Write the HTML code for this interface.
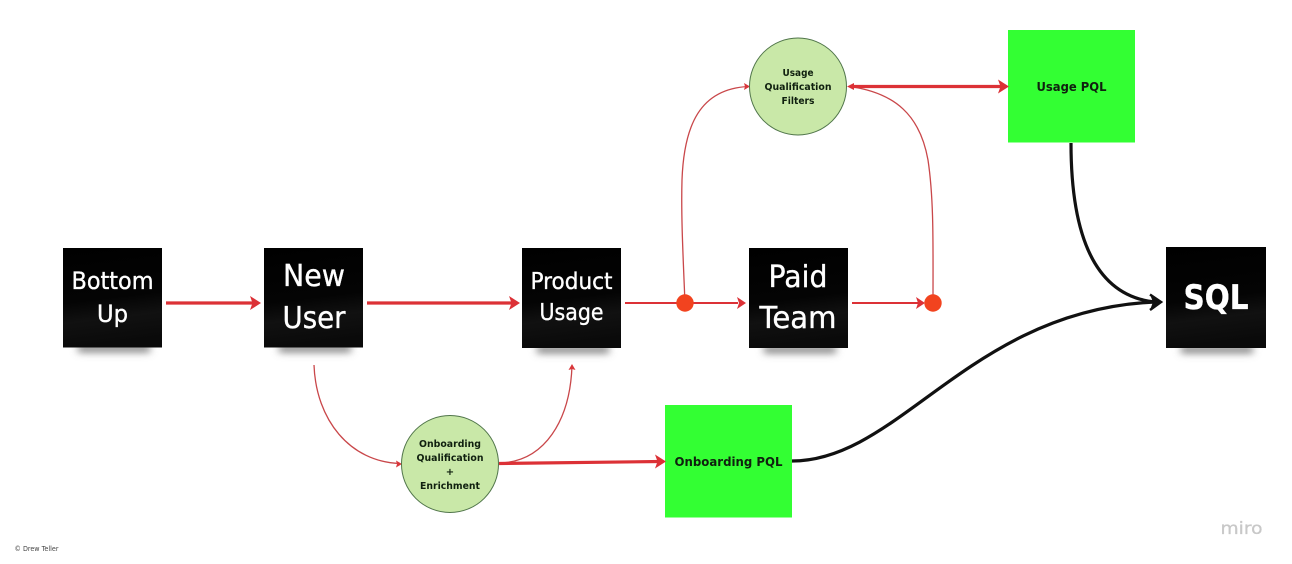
<!DOCTYPE html>
<html>
<head>
<meta charset="utf-8">
<style>
html,body{margin:0;padding:0;background:#fff;width:1292px;height:564px;overflow:hidden}
svg{display:block}
text{font-family:"DejaVu Sans","Liberation Sans",sans-serif;text-anchor:middle}
.w{fill:#fff;stroke:#fff;stroke-width:.35}
.b{fill:#10200f;font-weight:700;font-size:10px}
.g{fill:#10200f;font-weight:700;font-size:12.5px}
</style>
</head>
<body>
<svg width="1292" height="564" viewBox="0 0 1292 564" xmlns="http://www.w3.org/2000/svg">
<defs>
<linearGradient id="note" x1="0" y1="0" x2="0.12" y2="1">
<stop offset="0" stop-color="#000"/><stop offset="0.55" stop-color="#040404"/><stop offset="0.75" stop-color="#111"/><stop offset="1" stop-color="#0a0a0a"/>
</linearGradient>
<filter id="blur" x="-30%" y="-300%" width="160%" height="700%"><feGaussianBlur stdDeviation="4"/></filter>
</defs>
<rect width="1292" height="564" fill="#fff"/>

<!-- shadows -->
<g fill="#777" filter="url(#blur)">
<rect x="78" y="345" width="72" height="7"/>
<rect x="279" y="345" width="72" height="7"/>
<rect x="537" y="346" width="72" height="7"/>
<rect x="764" y="346" width="72" height="7"/>
<rect x="1181" y="346" width="72" height="7"/>
</g>

<!-- notes -->
<rect x="63" y="248" width="99" height="99.500" fill="url(#note)"/>
<rect x="264" y="248" width="99" height="99.500" fill="url(#note)"/>
<rect x="522" y="248" width="99" height="100" fill="url(#note)"/>
<rect x="749" y="248" width="99" height="100" fill="url(#note)"/>
<rect x="1166" y="247" width="100" height="101" fill="url(#note)"/>

<text class="w" x="112.500" y="289" font-size="24" textLength="82" lengthAdjust="spacingAndGlyphs">Bottom</text>
<text class="w" x="112.500" y="322" font-size="24" textLength="31" lengthAdjust="spacingAndGlyphs">Up</text>
<text class="w" x="314" y="286" font-size="30" textLength="62" lengthAdjust="spacingAndGlyphs">New</text>
<text class="w" x="314" y="328" font-size="30" textLength="63" lengthAdjust="spacingAndGlyphs">User</text>
<text class="w" x="571.500" y="289" font-size="23" textLength="82" lengthAdjust="spacingAndGlyphs">Product</text>
<text class="w" x="571.500" y="320" font-size="23" textLength="64" lengthAdjust="spacingAndGlyphs">Usage</text>
<text class="w" x="798" y="287" font-size="30" textLength="59" lengthAdjust="spacingAndGlyphs">Paid</text>
<text class="w" x="798" y="328" font-size="30" textLength="77" lengthAdjust="spacingAndGlyphs">Team</text>
<text class="w" x="1216" y="309" font-size="34" font-weight="700" textLength="65" lengthAdjust="spacingAndGlyphs">SQL</text>

<!-- green squares -->
<rect x="1008" y="30" width="127" height="112.500" fill="#33ff33"/>
<rect x="665" y="405" width="127" height="112.500" fill="#33ff33"/>
<text class="g" x="1071.500" y="91" textLength="70" lengthAdjust="spacingAndGlyphs">Usage PQL</text>
<text class="g" x="728.500" y="466" textLength="108" lengthAdjust="spacingAndGlyphs">Onboarding PQL</text>

<!-- thin red curves -->
<g fill="none" stroke="#c9474a" stroke-width="1.300">
<path d="M685 303C683 255 681 215 682 180C684 125 700 89 748 86.500"/>
<path d="M933 303C933 245 934 200 928 160C920 115 895 93 850 86.500"/>
<path d="M314 365C316 420 350 462 400 463.500"/>
<path d="M499 463C545 462 570 420 572 366"/>
</g>
<g fill="#d9363a">
<polygon points="750,86.500 744,83 745,86.500 744,90"/>
<polygon points="402,464 396,460.500 397,464 396,467.500"/>
<polygon points="572,364 568.500,370 572,369 575.500,370"/>
</g>

<!-- thick red lines -->
<g fill="none" stroke="#dc3136" stroke-width="3.200">
<path d="M166 303H255"/>
<path d="M367 303H514"/>
<path d="M852 86.500H1003"/>
<path d="M499 463.500L660 461.500"/>
</g>
<g fill="#dc3136">
<polygon points="261,303 250,296 252.500,303 250,310"/>
<polygon points="520,303 509,296 511.500,303 509,310"/>
<polygon points="1009,86.500 998,79.500 1000.500,86.500 998,93.500"/>
<polygon points="666,461.500 655,454.500 657.500,461.500 655,468.500"/>
<polygon points="847,86.500 854,83 854,90"/>
</g>

<!-- medium red lines -->
<g fill="none" stroke="#dc3136" stroke-width="2">
<path d="M625 303H738"/>
<path d="M852 303H920"/>
</g>
<g fill="#dc3136">
<polygon points="746,303 737,297 739,303 737,309"/>
<polygon points="925,303 916,297 918,303 916,309"/>
</g>
<circle cx="685" cy="303" r="8.700" fill="#f2431f"/>
<circle cx="933" cy="303" r="8.700" fill="#f2431f"/>

<!-- circles -->
<circle cx="798" cy="86.500" r="48.500" fill="#c9e8a8" stroke="#50754a" stroke-width="1"/>
<circle cx="450" cy="464" r="48.500" fill="#c9e8a8" stroke="#50754a" stroke-width="1"/>
<text class="b" x="798" y="76" textLength="31" lengthAdjust="spacingAndGlyphs">Usage</text>
<text class="b" x="798" y="90" textLength="67" lengthAdjust="spacingAndGlyphs">Qualification</text>
<text class="b" x="798" y="104" textLength="33" lengthAdjust="spacingAndGlyphs">Filters</text>
<text class="b" x="450" y="447" textLength="62" lengthAdjust="spacingAndGlyphs">Onboarding</text>
<text class="b" x="450" y="461" textLength="67" lengthAdjust="spacingAndGlyphs">Qualification</text>
<text class="b" x="450" y="475">+</text>
<text class="b" x="450" y="489" textLength="60" lengthAdjust="spacingAndGlyphs">Enrichment</text>

<!-- black curves -->
<g fill="none" stroke="#111" stroke-width="3.200">
<path d="M1071 143C1071 215 1085 295 1155 302"/>
<path d="M792 461C900 461 970 310 1155 302"/>
</g>
<polygon points="1163,302 1150,294.500 1153,302 1150,310" fill="#111"/>
<path d="M1150 294.500L1161 302L1150 310" fill="none" stroke="#111" stroke-width="2.500"/>

<!-- footer -->
<text x="36.500" y="551" font-size="7" fill="#444" font-family="Liberation Sans" textLength="44" lengthAdjust="spacingAndGlyphs">© Drew Teller</text>
<text x="1241.500" y="534" font-size="16.500" fill="#c8c8c8" stroke="#c8c8c8" stroke-width=".3" textLength="42" lengthAdjust="spacingAndGlyphs">miro</text>
</svg>
</body>
</html>
